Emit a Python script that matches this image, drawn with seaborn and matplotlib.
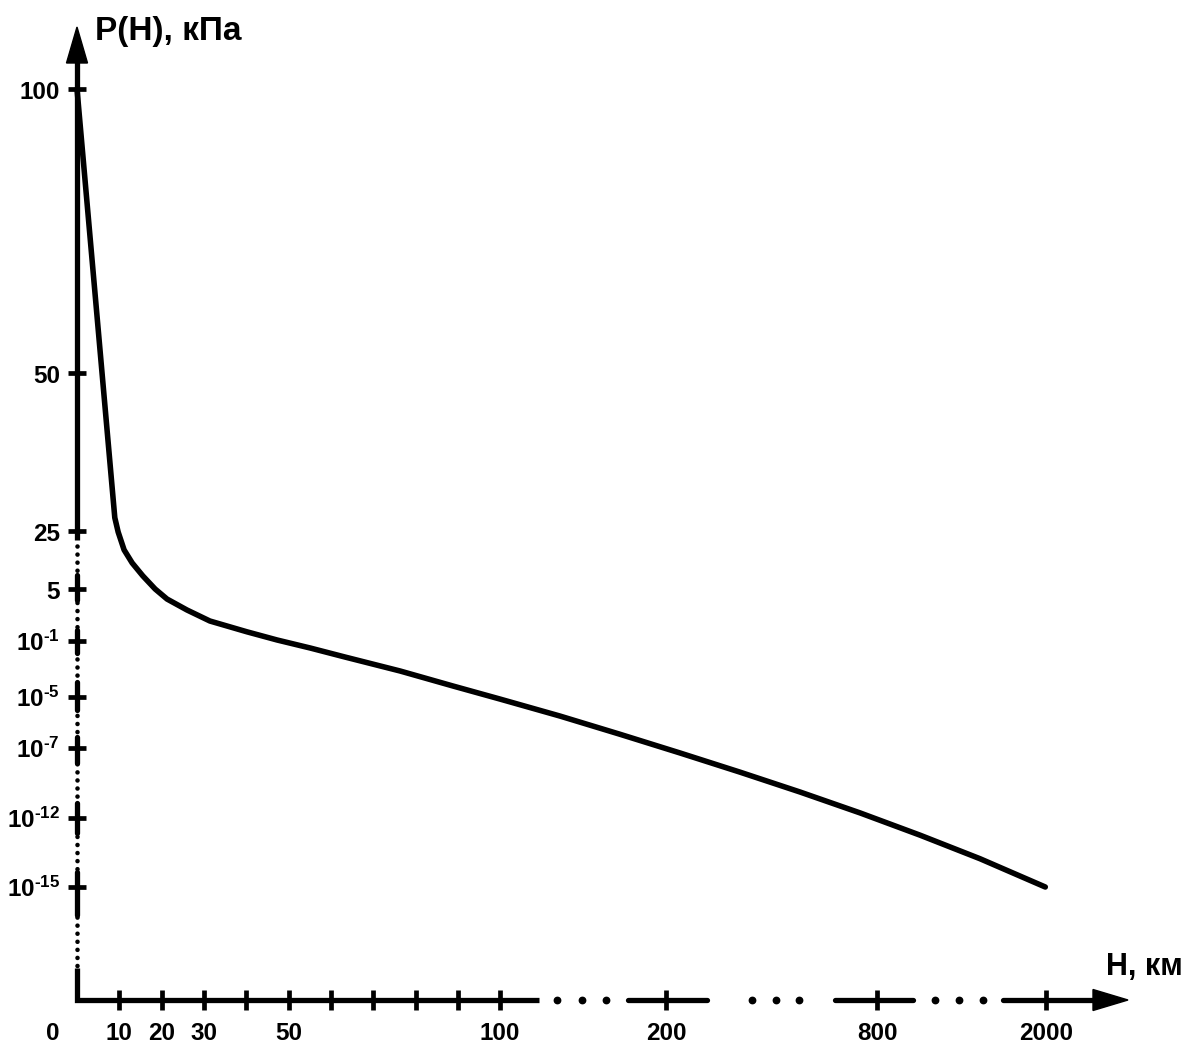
import numpy as np
import matplotlib
matplotlib.use("Agg")
import matplotlib.pyplot as plt
import seaborn as sns
from matplotlib import transforms
from matplotlib.patches import Polygon

# --- данные ---
H_KM = [0, 9.0, 9.8, 11.2, 13.1, 15.6, 18.5, 21.3, 26.0, 31.4, 40.2, 47.3, 55.1,
        63.3, 76.3, 88.8, 100, 136, 172, 240, 410, 581, 752, 1105, 1531, 1995]
P_KPA = [100, 26.5, 24.3, 14.8, 10.3, 7.2, 5.0, 2.35, 1.03, 0.45, 0.2, 0.108, 3.16e-2,
         7.2e-3, 7.2e-4, 6.1e-5, 8.3e-6, 1.8e-6, 3.5e-7, 4.4e-8, 1.9e-9, 7.2e-11,
         2.3e-12, 1.8e-13, 1.7e-14, 1e-15]

X_TICKS = [0, 10, 20, 30, 40, 50, 60, 70, 80, 90, 100, 200, 800, 2000]
X_LABELS = ['0', '10', '20', '30', '', '50', '', '', '', '', '100', '200', '800', '2000']
Y_TICKS = [1e-15, 1e-12, 1e-7, 1e-5, 1e-1, 5, 25, 50, 100]
Y_LABELS = [r'10$^{\text{-15}}$', r'10$^{\text{-12}}$', r'10$^{\text{-7}}$',
            r'10$^{\text{-5}}$', r'10$^{\text{-1}}$', '5', '25', '50', '100']

# положение делений на картинке (пиксели), задаёт кусочную шкалу
W, HGT = 1192, 1048
X_PX = [77, 119, 161.5, 204, 246, 288.5, 331, 373, 416, 458, 500, 666, 877, 1046]
Y_PX = [887, 818, 748, 697, 641, 589, 531, 373, 89]   # от верхнего края


def piecewise(v, src, dst):
    v = np.atleast_1d(np.asarray(v, dtype=float))
    out = np.interp(v, src, dst)
    lo = v < src[0]
    hi = v > src[-1]
    out[lo] = dst[0] + (v[lo] - src[0]) * (dst[1] - dst[0]) / (src[1] - src[0])
    out[hi] = dst[-1] + (v[hi] - src[-1]) * (dst[-1] - dst[-2]) / (src[-1] - src[-2])
    return out


x_src = np.array(X_TICKS, float)
x_dst = np.array(X_PX, float)
y_src = np.log10(Y_TICKS)
y_dst = HGT - np.array(Y_PX, float)


def fx(h):
    return piecewise(h, x_src, x_dst)


def fx_inv(p):
    return piecewise(p, x_dst, x_src)


def fy(p):
    return piecewise(np.log10(np.clip(np.asarray(p, float), 1e-300, None)), y_src, y_dst)


def fy_inv(p):
    return 10 ** piecewise(p, y_dst, y_src)


sns.set_theme(style='white')
plt.rcParams['font.family'] = ['Liberation Sans', 'DejaVu Sans']
plt.rcParams['mathtext.fontset'] = 'custom'
plt.rcParams['mathtext.rm'] = 'Liberation Sans:bold'
plt.rcParams['mathtext.it'] = 'Liberation Sans:bold'
plt.rcParams['mathtext.bf'] = 'Liberation Sans:bold'

fig = plt.figure(figsize=(W / 100, HGT / 100), dpi=100)
ax = fig.add_axes([0, 0, 1, 1])
ax.set_xscale('function', functions=(fx, fx_inv))
ax.set_yscale('function', functions=(fy, fy_inv))
ax.set_xlim(fx_inv(0)[0], fx_inv(W)[0])
ax.set_ylim(fy_inv(0)[0], fy_inv(HGT)[0])
ax.axis('off')

px = transforms.Affine2D().scale(1 / W, -1 / HGT).translate(0, 1) + fig.transFigure
bx = transforms.blended_transform_factory(ax.transData, px)
by = transforms.blended_transform_factory(px, ax.transData)

K = 'black'
AX_LW = 3.8
FS = 17.5

# ось P: сплошная часть, пунктир, короткие сплошные куски у делений
ax.plot([77, 77], [60, 540], transform=px, color=K, lw=AX_LW, solid_capstyle='butt', clip_on=False)
ax.plot([77, 77], [546, 966], transform=px, color=K, lw=3.3, ls=(0, (0.01, 1.75)),
        dash_capstyle='round', clip_on=False)
for a, b in [(575, 600), (630, 653), (682, 710), (737, 763), (803, 833), (872, 915)]:
    ax.plot([77, 77], [a, b], transform=px, color=K, lw=AX_LW, solid_capstyle='round', clip_on=False)
ax.plot([77, 77, 539], [968, 1000, 1000], transform=px, color=K, lw=AX_LW,
        solid_capstyle='butt', solid_joinstyle='miter', clip_on=False)

# ось H: разрывы с точками
for a, b in [(628, 707), (835, 913), (1003, 1096)]:
    ax.plot([a, b], [1000, 1000], transform=px, color=K, lw=AX_LW, solid_capstyle='round', clip_on=False)
ax.plot([557, 582, 606, 752, 776, 799, 935, 959, 983], [1000] * 9, 'o', transform=px,
        color=K, ms=4.6, clip_on=False)

# стрелки
ax.add_patch(Polygon([(77, 27), (66.5, 63), (87.5, 63)], closed=True, color=K, transform=px, clip_on=False))
ax.add_patch(Polygon([(1128, 1000), (1093, 989.5), (1093, 1010.5)], closed=True, color=K,
                     transform=px, clip_on=False))

# деления и подписи
for h, lab in zip(X_TICKS, X_LABELS):
    if h > 0:
        ax.plot([h, h], [990, 1010], transform=bx, color=K, lw=3.4, solid_capstyle='butt', clip_on=False)
    xt = h if h > 0 else fx_inv(53)[0]
    if lab:
        ax.text(xt, 1040, lab, transform=bx, ha='center', va='baseline', fontsize=FS,
                fontweight='bold', color=K)
for p, lab in zip(Y_TICKS, Y_LABELS):
    ax.plot([68, 86], [p, p], transform=by, color=K, lw=3.4, solid_capstyle='butt', clip_on=False)
    t = ax.text(60, p, lab, ha='right', va='baseline', fontsize=FS, fontweight='bold', color=K)
    t.set_transform(by + transforms.ScaledTranslation(0, -10 / 100, fig.dpi_scale_trans))

# кривая P(H)
sns.lineplot(x=H_KM, y=P_KPA, ax=ax, color=K, lw=4.0, estimator=None, sort=False,
             solid_capstyle='round', solid_joinstyle='round')

ax.text(95, 40, 'P(H), кПа', transform=px, ha='left', va='baseline', fontsize=24,
        fontweight='bold', color=K)
ax.text(1183, 975, 'H, км', transform=px, ha='right', va='baseline', fontsize=22,
        fontweight='bold', color=K)

ax.set_xlim(fx_inv(0)[0], fx_inv(W)[0])
ax.set_ylim(fy_inv(0)[0], fy_inv(HGT)[0])
fig.savefig('out.png', dpi=100)
